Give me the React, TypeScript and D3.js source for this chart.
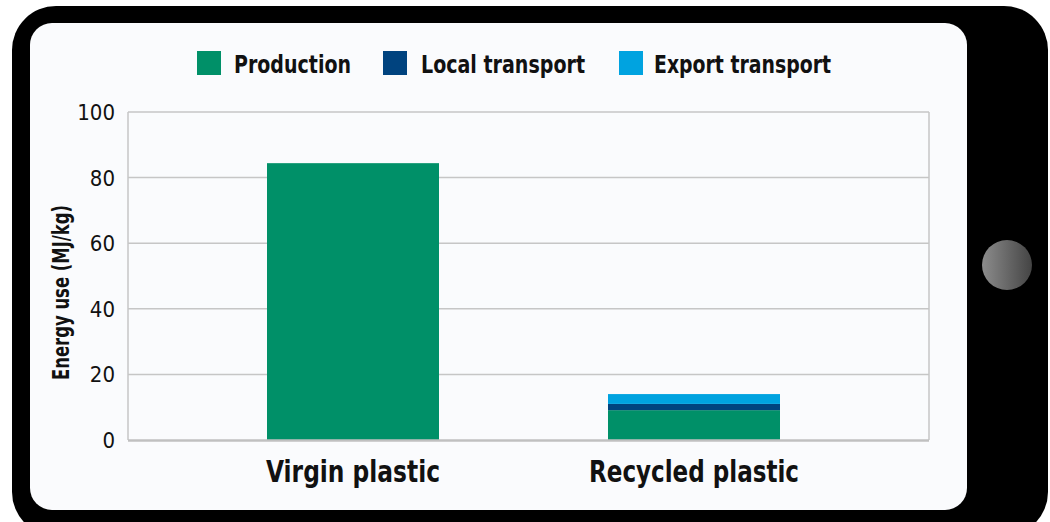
import * as React from 'react';
import { scaleLinear, scaleBand, stack } from 'd3';

const categories = ['Virgin plastic', 'Recycled plastic'];
const seriesNames = ['Production', 'Local transport', 'Export transport'];
const production = [84.4, 9.1];
const localTransport = [0, 1.9];
const exportTransport = [0, 3.0];
const yTicks = [0, 20, 40, 60, 80, 100];

const colors = ['#009068', '#00437f', '#00a3e0'];
const FONT = "'Liberation Sans Narrow', 'DejaVu Sans Condensed', sans-serif";

// measured text widths from the picture
const legendWidths = [117, 164, 177];
const categoryWidths = [174, 210];

/* Component */
const App = (): JSX.Element => {
    const left = 128;
    const right = 929;
    const top = 112;
    const bottom = 440;

    const yScale = scaleLinear().domain([0, 100]).range([bottom, top]);
    const xScale = scaleBand<string>()
        .domain(categories)
        .range([182.5, 864.5])
        .paddingInner(0.4956)
        .paddingOuter(0.2478);

    const rows = categories.map((c, i) => ({
        cat: c,
        'Production': production[i],
        'Local transport': localTransport[i],
        'Export transport': exportTransport[i],
    }));
    const layers = stack<any>().keys(seriesNames)(rows);

    const legendX = [197, 383, 619];
    const legendTextX = [234, 421, 654];

    return (
        <svg width={1050} height={522} style={{ position: 'absolute', left: 0, top: 0 }}>
            <defs>
                <linearGradient id="btn" x1="0" x2="1" y1="0" y2="0">
                    <stop offset="0" stopColor="#8c8c8c" />
                    <stop offset="1" stopColor="#444444" />
                </linearGradient>
            </defs>
            {/* phone body */}
            <rect x={12} y={6} width={1036} height={530} rx={44} fill="#000" />
            <rect x={30} y={23} width={937} height={487} rx={22} fill="#fafbfd" />
            <circle cx={1007} cy={265} r={25} fill="url(#btn)" />

            {/* grid */}
            {yTicks.filter(t => t > 0).map(t => (
                <line key={t} x1={left} x2={right} y1={yScale(t)} y2={yScale(t)}
                    stroke="#c6c6c6" strokeWidth={1.5} />
            ))}
            <line x1={left} x2={left} y1={top} y2={bottom} stroke="#c6c6c6" strokeWidth={1.5} />
            <line x1={right} x2={right} y1={top} y2={bottom} stroke="#c6c6c6" strokeWidth={1.5} />

            {/* bars */}
            {layers.map((layer, li) => (
                <g key={layer.key} fill={colors[li]}>
                    {layer.map((d, i) => (
                        d[1] - d[0] > 0 ? (
                            <rect key={i}
                                x={xScale(categories[i])}
                                width={xScale.bandwidth()}
                                y={yScale(d[1])}
                                height={yScale(d[0]) - yScale(d[1])} />
                        ) : null
                    ))}
                </g>
            ))}
            <line x1={left} x2={right} y1={bottom + 0.5} y2={bottom + 0.5} stroke="#c0c0c0" strokeWidth={2.5} />

            {/* y ticks */}
            {yTicks.map(t => (
                <text key={t} x={115} y={yScale(t)} dy="0.36em" textAnchor="end"
                    fontFamily={FONT} fontSize={22} fill="#111">{t}</text>
            ))}
            <text transform={`translate(69, ${292.5}) rotate(-90)`} textAnchor="middle"
                fontFamily={FONT} fontSize={22.5} fontWeight="bold" fill="#111"
                textLength={175} lengthAdjust="spacingAndGlyphs">Energy use (MJ/kg)</text>

            {/* category labels */}
            {categories.map((c, i) => (
                <text key={c} x={(xScale(c) as number) + xScale.bandwidth() / 2} y={482}
                    textAnchor="middle" fontFamily={FONT} fontSize={31} fontWeight="bold" fill="#111"
                    textLength={categoryWidths[i]} lengthAdjust="spacingAndGlyphs">{c}</text>
            ))}

            {/* legend */}
            {seriesNames.map((s, i) => (
                <g key={s}>
                    <rect x={legendX[i]} y={51} width={24} height={24} fill={colors[i]} />
                    <text x={legendTextX[i]} y={73} fontFamily={FONT} fontSize={24.5} fontWeight="bold" fill="#111"
                        textLength={legendWidths[i]} lengthAdjust="spacingAndGlyphs">{s}</text>
                </g>
            ))}
        </svg>
    );
};

export default App;
